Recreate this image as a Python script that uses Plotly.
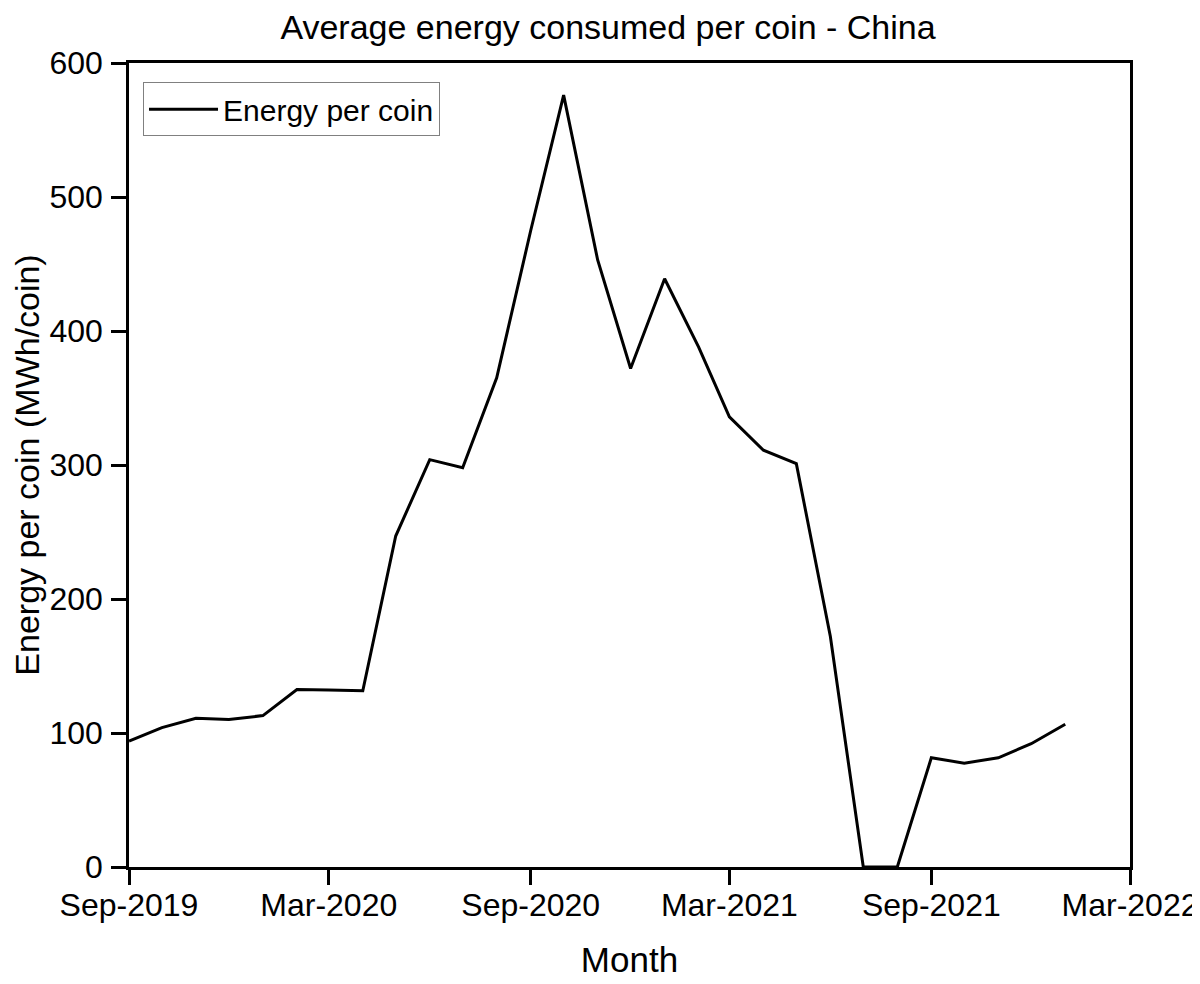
import plotly.graph_objects as go

# monthly averages
months = ["2019-09-01", "2019-10-01", "2019-11-01", "2019-12-01",
          "2020-01-01", "2020-02-01", "2020-03-01", "2020-04-01",
          "2020-05-01", "2020-06-01", "2020-07-01", "2020-08-01",
          "2020-09-01", "2020-10-01", "2020-11-01", "2020-12-01",
          "2021-01-01", "2021-02-01", "2021-03-01", "2021-04-01",
          "2021-05-01", "2021-06-01", "2021-07-01", "2021-08-01",
          "2021-09-01", "2021-10-01", "2021-11-01", "2021-12-01",
          "2022-01-01"]
energy_per_coin = [94, 104, 111, 110,
                   113, 132.5, 132, 131.5,
                   247, 304, 298, 365,
                   475, 576, 453, 372,
                   439, 388, 336, 311,
                   301, 172, 0, 0,
                   81.5, 77.5, 81.5, 92, 106.5]

tick_vals = ["2019-09-01", "2020-03-01", "2020-09-01",
             "2021-03-01", "2021-09-01", "2022-03-01"]
tick_text = ["Sep-2019", "Mar-2020", "Sep-2020",
             "Mar-2021", "Sep-2021", "Mar-2022"]
y_ticks = [0, 100, 200, 300, 400, 500, 600]

font_name = "Liberation Sans, Arial, sans-serif"

fig = go.Figure()
fig.add_trace(go.Scatter(x=months, y=energy_per_coin, mode="lines",
                         name="Energy per coin",
                         line=dict(color="black", width=3)))

fig.update_layout(
    width=1200, height=984,
    paper_bgcolor="white", plot_bgcolor="white",
    font=dict(family=font_name, color="black"),
    title=dict(text="Average energy consumed per coin - China",
               x=0.5, xanchor="center", y=1 - 7 / 984, yanchor="top",
               pad=dict(t=0), font=dict(size=34)),
    margin=dict(l=121, r=78, t=55, b=125),
    showlegend=True,
    legend=dict(x=0.014, y=0.976, xanchor="left", yanchor="top",
                bordercolor="#808080", borderwidth=1, itemwidth=69,
                bgcolor="white", font=dict(size=30)),
)

fig.update_xaxes(
    range=["2019-09-01", "2022-03-01"],
    tickvals=tick_vals, ticktext=tick_text,
    tickfont=dict(size=32), ticklabelstandoff=-7,
    ticks="outside", ticklen=15, tickwidth=2.5, tickcolor="black",
    showline=True, linewidth=2.5, linecolor="black", mirror=True,
    showgrid=False, zeroline=False, automargin=False,
    title=dict(text="Month", font=dict(size=35), standoff=26),
)
fig.update_yaxes(
    range=[0, 600], tickvals=y_ticks,
    tickfont=dict(size=32), ticklabelstandoff=2,
    ticks="outside", ticklen=15, tickwidth=2.5, tickcolor="black",
    showline=True, linewidth=2.5, linecolor="black", mirror=True,
    showgrid=False, zeroline=False, automargin=False,
    title=dict(text="Energy per coin (MWh/coin)", font=dict(size=34),
               standoff=4),
)

fig.write_html("out.html")
